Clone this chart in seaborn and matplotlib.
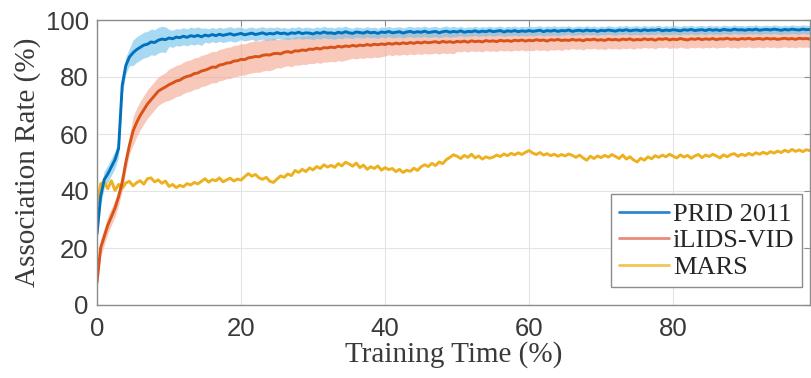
import numpy as np
import matplotlib
matplotlib.use("Agg")
import matplotlib.pyplot as plt
import seaborn as sns
from matplotlib.lines import Line2D

# ─── Data (x step 0.5 from 0 to 99) ───────────────────────
train_time = np.arange(0, 99.5, 0.5)

prid_2011 = [
    25, 38, 44, 46, 48.5, 51, 55, 77, 84, 87,
    88.5, 89.6, 90.4, 91.2, 91.5, 92.3, 92.1, 92.9, 93.3, 93.1,
    93.7, 93.4, 94.0, 93.8, 94.3, 93.9, 94.5, 94.2, 94.6, 94.1,
    94.7, 94.4, 94.9, 94.5, 95.0, 94.6, 94.9, 95.2, 94.7, 95.0,
    95.3, 94.8, 95.1, 95.4, 94.9, 95.2, 95.5, 95.0, 95.3, 95.1,
    95.6, 95.2, 95.4, 95.0, 95.5, 95.3, 95.7, 95.2, 95.5, 95.4,
    95.1, 95.6, 95.3, 95.8, 95.4, 95.5, 95.2, 95.7, 95.4, 95.9,
    95.5, 95.3, 95.8, 95.6, 95.4, 95.9, 95.5, 95.7, 95.3, 95.8,
    95.6, 96.0, 95.5, 95.7, 95.9, 95.4, 95.8, 96.0, 95.6, 95.9,
    95.7, 96.1, 95.6, 95.8, 96.0, 95.5, 95.9, 96.1, 95.7, 96.0,
    95.8, 96.2, 95.7, 96.0, 95.9, 96.2, 95.8, 96.1, 95.9, 96.3,
    95.9, 96.1, 96.3, 95.8, 96.2, 96.0, 96.3, 95.9, 96.2, 96.0,
    96.3, 96.0, 96.2, 96.4, 95.9, 96.3, 96.1, 96.4, 96.0, 96.3,
    96.2, 96.5, 96.0, 96.3, 96.4, 96.1, 96.5, 96.2, 96.4, 96.0,
    96.4, 96.2, 96.5, 96.3, 96.1, 96.5, 96.3, 96.6, 96.2, 96.4,
    96.5, 96.2, 96.6, 96.3, 96.5, 96.4, 96.7, 96.2, 96.5, 96.3,
    96.6, 96.4, 96.2, 96.6, 96.4, 96.7, 96.3, 96.5, 96.6, 96.3,
    96.7, 96.4, 96.6, 96.3, 96.7, 96.5, 96.4, 96.8, 96.5, 96.6,
    96.4, 96.7, 96.5, 96.8, 96.4, 96.6, 96.7, 96.5, 96.8, 96.6,
    96.4, 96.7, 96.5, 96.8, 96.6, 96.5, 96.8, 96.6, 96.7,
]

ilids_vid = [
    8, 20, 24, 28, 31, 34, 38, 43, 50, 56,
    61, 64, 66.5, 68.5, 70.5, 72, 73.5, 75, 75.8, 76.5,
    77.3, 77.9, 78.6, 78.9, 79.7, 80.2, 80.5, 81.2, 81.4, 82.1,
    82.4, 82.9, 83.5, 83.4, 84.2, 84.4, 84.9, 85.0, 85.6, 85.7,
    86.2, 86.1, 86.7, 86.9, 87.2, 87.1, 87.6, 87.8, 87.7, 88.2,
    88.3, 88.1, 88.7, 88.9, 88.6, 89.2, 89.1, 89.5, 89.3, 89.8,
    89.7, 90.1, 89.8, 90.3, 90.2, 90.5, 90.3, 90.8, 90.5, 90.9,
    90.7, 91.1, 90.8, 91.2, 91.0, 91.4, 91.1, 91.5, 91.3, 91.6,
    91.4, 91.8, 91.5, 91.9, 91.6, 92.0, 91.7, 92.1, 91.8, 92.2,
    91.9, 92.3, 92.0, 92.2, 92.4, 92.0, 92.5, 92.2, 92.4, 92.1,
    92.5, 92.3, 92.6, 92.2, 92.7, 92.4, 92.6, 92.3, 92.8, 92.5,
    92.7, 92.4, 92.9, 92.6, 92.8, 92.5, 92.9, 92.7, 93.0, 92.6,
    92.9, 92.7, 93.1, 92.8, 93.0, 92.6, 93.1, 92.9, 93.2, 92.8,
    93.0, 92.8, 93.2, 92.9, 93.1, 92.7, 93.2, 93.0, 93.3, 92.9,
    93.1, 92.8, 93.3, 93.0, 93.2, 92.9, 93.3, 93.1, 93.4, 92.9,
    93.2, 93.0, 93.4, 93.1, 93.3, 92.9, 93.4, 93.2, 93.5, 93.0,
    93.3, 93.1, 93.5, 93.2, 93.0, 93.4, 93.2, 93.5, 93.1, 93.4,
    93.2, 93.5, 93.1, 93.4, 93.3, 93.6, 93.2, 93.4, 93.1, 93.5,
    93.3, 93.6, 93.2, 93.4, 93.5, 93.2, 93.6, 93.3, 93.5, 93.2,
    93.4, 93.6, 93.3, 93.5, 93.2, 93.6, 93.4, 93.5, 93.3,
]

mars = [
    35, 42.5, 43.2, 40.8, 43.6, 40.2, 42.3, 40.9, 42.8, 43.4,
    41.8, 42.9, 43.6, 42.4, 44.3, 44.6, 43.2, 43.9, 42.7, 43.5,
    41.6, 42.3, 41.2, 42.0, 41.5, 42.6, 42.1, 43.0, 42.5, 43.4,
    44.3, 43.1, 44.0, 43.6, 44.6, 43.2, 43.9, 44.5, 43.5, 44.2,
    43.8, 45.0, 46.1, 45.2, 45.8, 44.6, 44.1, 44.8, 43.4, 43.0,
    44.2, 45.3, 44.8, 46.0, 45.4, 47.2, 46.5, 47.6, 46.8, 48.1,
    47.4, 48.6, 47.9, 49.2, 48.4, 49.0, 48.3, 49.6, 48.8, 50.1,
    49.5, 48.7, 49.8, 48.2, 49.1, 47.6, 48.5, 47.9, 48.8, 47.3,
    48.2, 47.5, 47.9, 46.8, 47.6, 46.5, 47.3, 46.9, 48.0, 47.2,
    48.5, 49.2, 48.6, 49.7, 48.9, 50.2, 49.6, 51.0, 51.8, 52.7,
    52.2, 51.4, 52.5, 51.8, 52.9, 51.6, 52.3, 51.2, 52.0, 51.5,
    51.9, 52.6, 52.1, 53.0, 52.4, 53.2, 52.7, 53.4, 52.8, 53.6,
    54.2, 53.3, 52.8, 53.5, 52.6, 53.1, 52.4, 52.9, 52.2, 52.8,
    52.3, 53.0, 52.5, 51.8, 52.6, 51.6, 50.8, 52.2, 51.4, 52.3,
    51.7, 52.5, 51.9, 52.8, 52.1, 51.4, 52.6, 51.2, 52.0, 50.9,
    50.2, 51.5, 50.8, 52.0, 51.3, 52.4, 51.8, 52.6, 52.0, 52.9,
    52.2, 51.6, 52.7, 51.9, 52.5, 51.5, 52.3, 52.8, 51.7, 52.6,
    52.1, 52.9, 52.3, 51.6, 52.7, 52.0, 52.8, 53.1, 52.2, 52.9,
    52.4, 53.2, 52.6, 53.4, 52.9, 53.6, 53.0, 53.8, 53.3, 54.0,
    53.5, 54.3, 53.7, 54.6, 53.9, 54.4, 53.8, 54.5, 54.1,
]

# spread (half-width of shaded band), one value per 5 % block
prid_spread = [3.0, 4.5, 3.0, 2.5, 2.2, 2.0, 2.0, 1.8, 1.8, 1.8,
               1.6, 1.6, 1.6, 1.5, 1.5, 1.5, 1.5, 1.5, 1.5, 1.5]
ilids_spread = [3.0, 5.0, 5.5, 5.5, 5.5, 5.0, 5.0, 4.5, 4.0, 4.0,
                3.5, 3.5, 3.5, 3.2, 3.2, 3.0, 3.0, 3.0, 3.0, 3.0]

labels = ["PRID 2011", "iLIDS-VID", "MARS"]

# ─── Style ────────────────────────────────────────────────
BLUE, BLUE_BAND = "#0072BD", "#6EC0EC"
ORANGE, ORANGE_BAND = "#D95319", "#F4A58C"
YELLOW = "#EDB120"
TXT = "#3a3a3a"
SERIF = ["Liberation Serif", "DejaVu Serif"]
SANS = ["Liberation Sans", "DejaVu Sans"]

sns.set_theme(style="whitegrid")
plt.rcParams["font.family"] = SANS

fig = plt.figure(figsize=(8.12, 3.78), dpi=100)
ax = fig.add_axes([97 / 812, 73 / 378, 713 / 812, 285 / 378])

n = len(train_time)
prid = np.array(prid_2011)
ilids = np.array(ilids_vid)
prid_hw = np.repeat(prid_spread, 10)[:n]
ilids_hw = np.repeat(ilids_spread, 10)[:n]

ax.fill_between(train_time, ilids - ilids_hw, ilids + ilids_hw,
                color=ORANGE_BAND, alpha=0.6, linewidth=0)
ax.fill_between(train_time, prid - prid_hw, prid + prid_hw,
                color=BLUE_BAND, alpha=0.6, linewidth=0)

sns.lineplot(x=train_time, y=mars, color=YELLOW, lw=2.1, ax=ax)
sns.lineplot(x=train_time, y=ilids, color=ORANGE, lw=2.1, ax=ax)
sns.lineplot(x=train_time, y=prid, color=BLUE, lw=2.1, ax=ax)

ax.set_xlim(0, 99)
ax.set_ylim(0, 100)
ax.set_xticks([0, 20, 40, 60, 80])
ax.set_yticks([0, 20, 40, 60, 80, 100])
ax.grid(True, color="#e4e4e4", linewidth=0.8)
ax.set_facecolor("white")
for s in ax.spines.values():
    s.set_color("#8c8c8c")
    s.set_linewidth(1.0)
    s.set_visible(True)

ax.tick_params(direction="in", length=4, width=0.8, color="#8c8c8c",
               labelsize=18.5, labelcolor=TXT, top=True, right=True)
ax.tick_params(axis="x", pad=9)
ax.tick_params(axis="y", pad=6)

ax.set_xlabel("Training Time (%)", fontsize=21, color=TXT,
              family=SERIF, labelpad=0)
ax.set_ylabel("Association Rate (%)", fontsize=21, color=TXT,
              family=SERIF, labelpad=3)

handles = [Line2D([], [], color="#2e86d0", lw=2),
           Line2D([], [], color="#e98a7c", lw=2),
           Line2D([], [], color="#f1c556", lw=2)]
leg = ax.legend(handles, labels, loc="lower right",
                bbox_to_anchor=(0.989, 0.063), fancybox=False,
                framealpha=1, edgecolor="#8c8c8c",
                prop={"family": SERIF, "size": 19},
                handlelength=1.9, handletextpad=0.15, labelspacing=0.12,
                borderpad=0.3, borderaxespad=0)
leg.get_frame().set_linewidth(1.0)
for t in leg.get_texts():
    t.set_color("#262626")

fig.savefig("out.png", dpi=100)
